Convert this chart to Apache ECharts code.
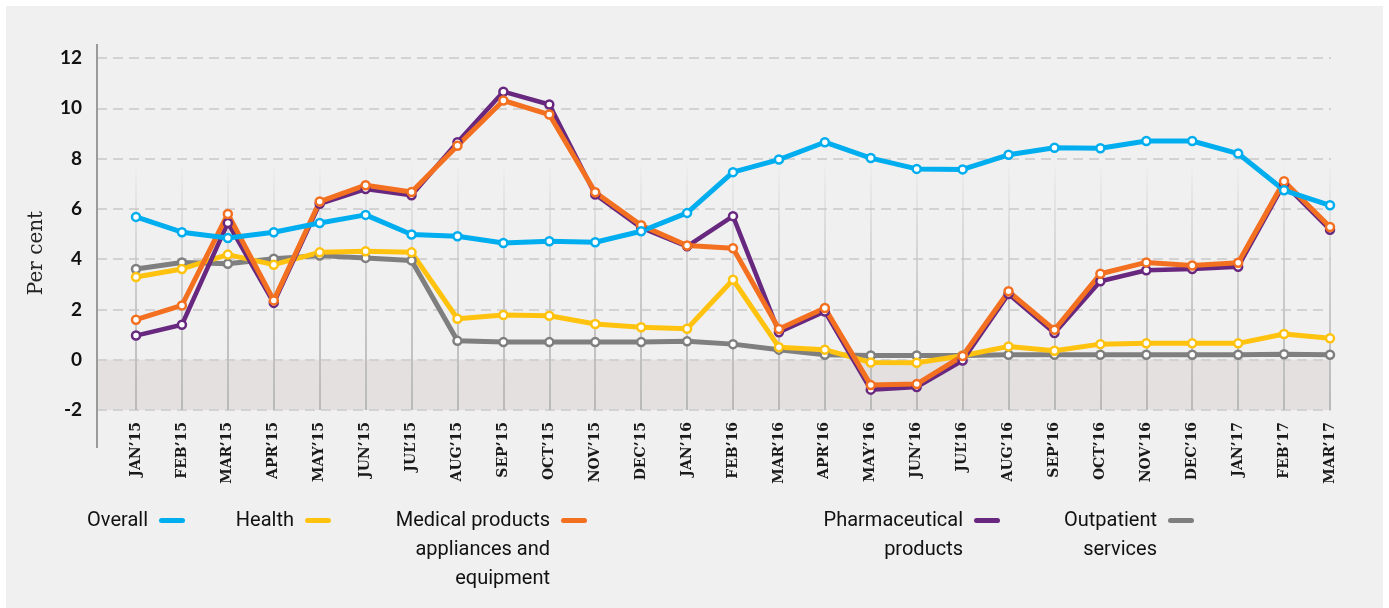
<!DOCTYPE html>
<html>
<head>
<meta charset="utf-8">
<script src="https://cdn.jsdelivr.net/npm/echarts@6/dist/echarts.min.js"></script>
<style>
    html, body {margin: 0; padding: 0; background: #fff;}
    #panel {position: absolute; left: 6px; top: 6px; width: 1377px; height: 602px; background: #f0f0f0;}
    #chart {position: absolute; left: 0; top: 0; width: 1389px; height: 608px;}
</style>
</head>
<body>
<div id="panel"></div>
<div id="chart"></div>
<script>
// months, Jan 2015 - Mar 2017
const months = ['JAN’15', 'FEB’15', 'MAR’15', 'APR’15', 'MAY’15', 'JUN’15', 'JUL’15', 'AUG’15', 'SEP’15',
    'OCT’15', 'NOV’15', 'DEC’15', 'JAN’16', 'FEB’16', 'MAR’16', 'APR’16', 'MAY’16', 'JUN’16', 'JUL’16',
    'AUG’16', 'SEP’16', 'OCT’16', 'NOV’16', 'DEC’16', 'JAN’17', 'FEB’17', 'MAR’17'];

const overall = [5.68, 5.07, 4.84, 5.07, 5.44, 5.76, 4.98, 4.91, 4.64, 4.71, 4.67, 5.11, 5.84, 7.46,
    7.96, 8.65, 8.02, 7.59, 7.57, 8.15, 8.43, 8.41, 8.70, 8.70, 8.20, 6.74, 6.14];
const health = [3.29, 3.61, 4.18, 3.78, 4.27, 4.31, 4.27, 1.63, 1.78, 1.75, 1.42, 1.29, 1.23, 3.18,
    0.50, 0.40, -0.11, -0.12, 0.16, 0.53, 0.36, 0.62, 0.65, 0.65, 0.65, 1.02, 0.85];
const medical = [1.59, 2.16, 5.80, 2.36, 6.29, 6.94, 6.67, 8.51, 10.31, 9.75, 6.66, 5.35, 4.54, 4.43,
    1.22, 2.06, -1.01, -0.97, 0.15, 2.72, 1.19, 3.42, 3.87, 3.75, 3.86, 7.10, 5.28];
const pharma = [0.96, 1.39, 5.44, 2.26, 6.20, 6.79, 6.54, 8.65, 10.66, 10.15, 6.57, 5.25, 4.51, 5.71,
    1.09, 1.92, -1.19, -1.09, -0.03, 2.61, 1.06, 3.12, 3.56, 3.61, 3.70, 7.00, 5.17];
const outpatient = [3.61, 3.87, 3.82, 4.02, 4.14, 4.05, 3.95, 0.75, 0.70, 0.70, 0.70, 0.70, 0.73, 0.62,
    0.40, 0.20, 0.17, 0.17, 0.17, 0.20, 0.20, 0.20, 0.20, 0.20, 0.20, 0.22, 0.20];

const yTicks = {min: -2, max: 12, interval: 2};

const COLORS = {
    overall: '#00aeef',
    health: '#ffc20e',
    medical: '#f37021',
    pharma: '#68287f',
    outpatient: '#7f7f7f'
};

const LINE_H = 29;
const legendFont = "'Liberation Sans Narrow', 'Roboto', sans-serif";

function iconPath(h) {
    // short rounded bar at the top, box stretched so the bar sits on the first text line
    return 'path://M8.5,0L29.5,0A2.5,2.5,0,0,1,29.5,5L8.5,5A2.5,2.5,0,0,1,8.5,0Z' +
        'M0,' + h + 'L0,' + h;
}

// legends are placed by the right end of their bar
function makeLegend(name, label, color, right) {
    let lines = label.split('\n').length,
        h = (lines - 1) * LINE_H + 5;
    return {
        data: [{name: name, itemStyle: {color: color, borderWidth: 0}}],
        right: right,
        top: 501,
        align: 'right',
        itemWidth: 32,
        itemHeight: h,
        icon: iconPath(h),
        selectedMode: false,
        formatter: function () {
            return label;
        },
        textStyle: {
            fontFamily: legendFont,
            fontSize: 20,
            lineHeight: LINE_H,
            color: '#111'
        }
    };
}

function makeSeries(name, values, color, width) {
    return {
        name: name,
        type: 'line',
        xAxisIndex: 1,
        yAxisIndex: 1,
        data: values,
        color: color,
        symbol: 'circle',
        symbolSize: 8,
        showSymbol: true,
        lineStyle: {color: color, width: width},
        itemStyle: {color: '#fff', borderColor: color, borderWidth: 2.5},
        emphasis: {disabled: true}
    };
}

let chart = echarts.init(document.getElementById('chart'));

let fade = new echarts.graphic.LinearGradient(0, 0, 0, 1, [
    {offset: 0, color: 'rgba(190,190,190,0)'},
    {offset: 0.3, color: 'rgba(190,190,190,0)'},
    {offset: 0.7, color: 'rgba(200,200,200,1)'},
    {offset: 1, color: 'rgba(185,185,185,1)'}
]);

let option = {
    animation: false,
    backgroundColor: 'transparent',
    grid: [
        {left: 97, right: 58, top: 58, bottom: 198},
        {left: 136, right: 59, top: 58, bottom: 198}
    ],
    xAxis: [
        {gridIndex: 0, type: 'value', min: 0, max: 1, show: false},
        {
            gridIndex: 1,
            type: 'category',
            data: months,
            boundaryGap: false,
            axisLine: {show: false},
            axisTick: {show: false},
            axisLabel: {
                rotate: 90,
                margin: 12,
                interval: 0,
                fontFamily: "'DejaVu Serif', serif",
                fontWeight: 'bold',
                fontSize: 14,
                color: '#1a1a1a'
            },
            splitLine: {show: true, interval: 0, lineStyle: {color: fade, width: 2}}
        }
    ],
    yAxis: [
        {
            gridIndex: 0,
            type: 'value',
            min: yTicks.min,
            max: yTicks.max,
            interval: yTicks.interval,
            axisLine: {show: false},
            axisTick: {show: false},
            axisLabel: {
                margin: 15,
                fontFamily: 'Lato',
                fontWeight: 'bold',
                fontSize: 19,
                color: '#111'
            },
            splitLine: {lineStyle: {color: '#d2d2d2', width: 2, type: [10, 6]}},
            splitArea: {
                show: true,
                areaStyle: {
                    color: ['#e3e0df', 'rgba(0,0,0,0)', 'rgba(0,0,0,0)', 'rgba(0,0,0,0)',
                        'rgba(0,0,0,0)', 'rgba(0,0,0,0)', 'rgba(0,0,0,0)']
                }
            }
        },
        {
            gridIndex: 1,
            type: 'value',
            min: yTicks.min,
            max: yTicks.max,
            interval: yTicks.interval,
            show: false
        }
    ],
    legend: [
        makeLegend('Overall', 'Overall', COLORS.overall, 1199),
        makeLegend('Health', 'Health', COLORS.health, 1053),
        makeLegend('Medical products appliances and equipment', 'Medical products\nappliances and\nequipment', COLORS.medical, 797),
        makeLegend('Pharmaceutical products', 'Pharmaceutical\nproducts', COLORS.pharma, 384),
        makeLegend('Outpatient services', 'Outpatient\nservices', COLORS.outpatient, 190)
    ],
    graphic: [
        {
            type: 'line',
            shape: {x1: 97, y1: 44, x2: 97, y2: 448},
            style: {stroke: '#9a9a9a', lineWidth: 2},
            z: 5
        },
        {
            type: 'text',
            x: 37,
            y: 253,
            rotation: Math.PI / 2,
            style: {
                text: 'Per cent',
                fontFamily: "'DejaVu Serif', serif",
                fontSize: 20,
                fill: '#222',
                align: 'center',
                verticalAlign: 'middle'
            }
        }
    ],
    series: [
        makeSeries('Outpatient services', outpatient, COLORS.outpatient, 5),
        makeSeries('Health', health, COLORS.health, 5),
        makeSeries('Pharmaceutical products', pharma, COLORS.pharma, 4.5),
        makeSeries('Medical products appliances and equipment', medical, COLORS.medical, 5),
        makeSeries('Overall', overall, COLORS.overall, 5)
    ]
};

chart.setOption(option);
</script>
</body>
</html>
